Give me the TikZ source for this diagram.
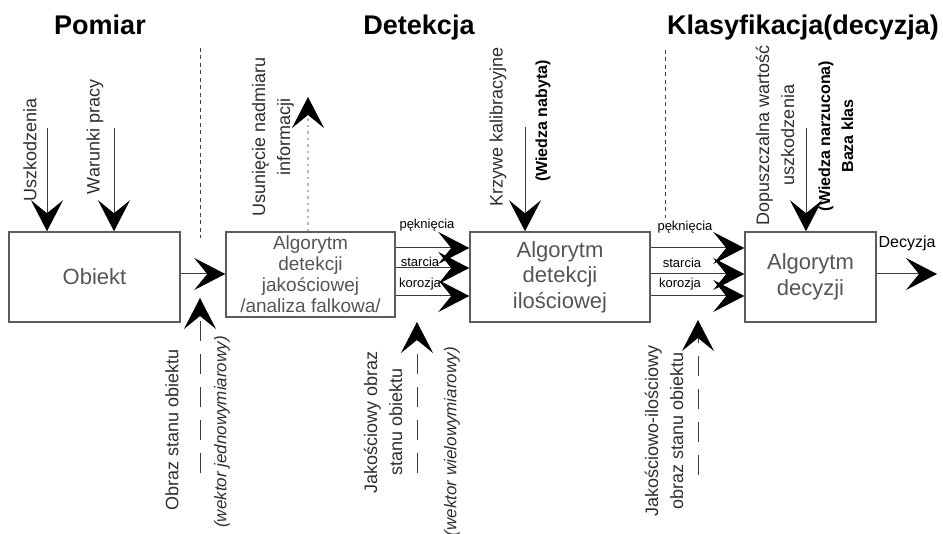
\documentclass[tikz,border=0pt]{standalone}
\usepackage{fontspec}
\setmainfont{Liberation Sans}
\usetikzlibrary{arrows.meta}

\definecolor{boxgray}{HTML}{5C5C5C}
\definecolor{txtgray}{HTML}{555555}
\definecolor{linegray}{HTML}{3A3A3A}
\definecolor{lblgray}{HTML}{2E2E2E}

\tikzset{
  bigtip/.style={-{Stealth[length=31pt,width=32pt,inset=13pt,color=black]}},
  conn/.style={draw=linegray, line width=1pt, bigtip},
  longdash/.style={dash pattern=on 20pt off 13pt},
  dotline/.style={draw=gray!55, line width=2.2pt, dash pattern=on 2.5pt off 4pt, bigtip},
  sepline/.style={draw=black!75, line width=0.9pt, dash pattern=on 4pt off 3.5pt},
  box/.style={draw=boxgray, line width=1.5pt, text=txtgray, align=center, inner sep=0pt},
  lbl/.style={rotate=90, align=center, inner sep=0pt, text=lblgray,
              font=\fontsize{18}{25}\selectfont},
  blbl/.style={rotate=90, align=center, inner sep=0pt, text=black,
               font=\fontsize{16}{23}\selectfont\bfseries},
  ilbl/.style={rotate=90, inner sep=0pt, text=lblgray,
               font=\fontsize{17}{20}\selectfont\itshape},
  small/.style={inner sep=0pt, text=black, font=\fontsize{13}{14}\selectfont},
  title/.style={inner sep=0pt, text=black, font=\fontsize{27}{30}\selectfont\bfseries}
}

\begin{document}
\begin{tikzpicture}[x=1pt,y=-1pt]
\useasboundingbox (0,0) rectangle (943,534);

% section titles
\node[title, anchor=base] (tpom) at (100,35) {Pomiar};
\node[title, anchor=base] (tdet) at (419,35) {Detekcja};
\node[title, anchor=base west] (tkla) at (667,35) {Klasyfikacja(decyzja)};

% processing blocks
\node[box, minimum width=171pt, minimum height=90pt,
      font=\fontsize{22}{26}\selectfont] (obiekt) at (94.5,277) {Obiekt};
\node[box, minimum width=169pt, minimum height=85pt,
      font=\fontsize{19}{21}\selectfont] (jak) at (310.5,274.5)
      {Algorytm\\detekcji\\jakościowej\\/analiza falkowa/};
\node[box, minimum width=180pt, minimum height=90pt,
      font=\fontsize{22}{25.5}\selectfont] (ilo) at (560,277)
      {Algorytm\\detekcji\\ilościowej};
\node[box, minimum width=131pt, minimum height=90pt,
      font=\fontsize{22}{25.5}\selectfont] (dec) at (810.5,277)
      {Algorytm\\decyzji};

% section separators
\coordinate (sepAtop) at (200,48);
\coordinate (sepAbot) at (200,238);
\coordinate (sepBtop) at (665,50);
\coordinate (sepBbot) at (665,218);
\draw[sepline] (sepAtop) -- (sepAbot);
\draw[sepline] (sepBtop) -- (sepBbot);

% main signal path
\coordinate (rowO) at (0,274);
\draw[conn] (obiekt.east |- rowO) -- (jak.west |- rowO);

\coordinate (ga) at (0,248);
\coordinate (gb) at (0,268);
\coordinate (gc) at (0,296);
\draw[conn] (jak.east |- ga) -- (ilo.west |- ga);
\draw[conn] (jak.east |- gb) -- (ilo.west |- gb);
\draw[conn] (jak.east |- gc) -- (ilo.west |- gc);
\node[small] (pek1) at (427,225) {pęknięcia};
\node[small] (sta1) at (420,262) {starcia};
\node[small] (kor1) at (420,284) {korozja};

\coordinate (ha) at (0,248);
\coordinate (hb) at (0,274);
\coordinate (hc) at (0,296);
\draw[conn] (ilo.east |- ha) -- (dec.west |- ha);
\draw[conn] (ilo.east |- hb) -- (dec.west |- hb);
\draw[conn] (ilo.east |- hc) -- (dec.west |- hc);
\node[small] (pek2) at (685,227) {pęknięcia};
\node[small] (sta2) at (682,263) {starcia};
\node[small] (kor2) at (680,284) {korozja};

\coordinate (decout) at (937,274);
\draw[conn] (dec.east |- decout) -- (decout);
\node[small, font=\fontsize{16}{18}\selectfont] (decl) at (907,243) {Decyzja};

% inputs from above
\coordinate (inUsz) at (47,128);
\coordinate (inWar) at (114,128);
\coordinate (inKrz) at (525,127);
\coordinate (inDop) at (806,128);
\draw[conn] (inUsz) -- (inUsz |- obiekt.north);
\draw[conn] (inWar) -- (inWar |- obiekt.north);
\draw[conn] (inKrz) -- (inKrz |- ilo.north);
\draw[conn] (inDop) -- (inDop |- dec.north);

\node[lbl] (lUsz) at (30,150) {Uszkodzenia};
\node[lbl] (lWar) at (95,137) {Warunki pracy};
\node[lbl] (lKrz) at (498,127) {Krzywe kalibracyjne};
\node[blbl] (lWn) at (543,121) {(Wiedza nabyta)};
\node[lbl] (lDop) at (775,135) {Dopuszczalna wartość\\uszkodzenia};
\node[blbl] (lWz) at (836,136) {(Wiedza narzucona)\\Baza klas};

% removal of redundant information
\coordinate (usun) at (308,97);
\draw[dotline] (usun |- jak.north) -- (usun);
\node[lbl] (lUsun) at (273,137) {Usunięcie nadmiaru\\informacji};

% state images from below
\coordinate (bA) at (200,473);
\coordinate (tA) at (200,298);
\coordinate (bB) at (417,473);
\coordinate (tB) at (417,322);
\coordinate (bC) at (698,475);
\coordinate (tC) at (698,320);
\draw[conn, longdash] (bA) -- (tA);
\draw[conn, longdash] (bB) -- (tB);
\draw[conn, longdash] (bC) -- (tC);

\node[lbl] (lObr) at (172,430) {Obraz stanu obiektu};
\node[ilbl] (lWj) at (222,432) {(wektor jednowymiarowy)};
\node[lbl] (lJak) at (383,422) {Jakościowy obraz\\stanu obiektu};
\node[ilbl, anchor=east] (lWw) at (452,347) {(wektor wielowymiarowy)};
\node[lbl] (lJi) at (664,431) {Jakościowo-ilościowy\\obraz stanu obiektu};
\end{tikzpicture}
\end{document}
